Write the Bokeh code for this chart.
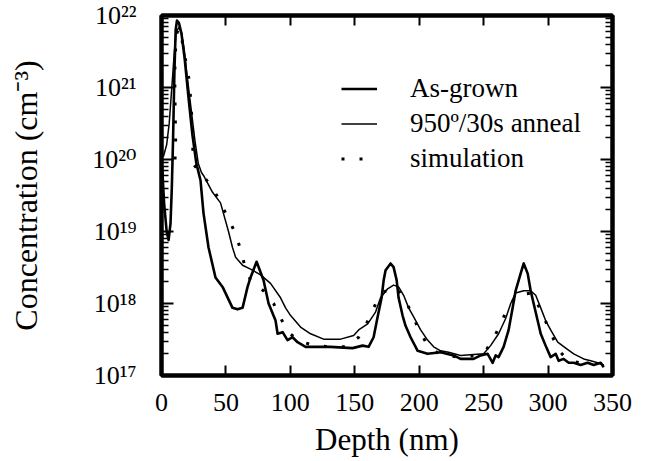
from bokeh.plotting import figure
from bokeh.models import (FixedTicker, LinearAxis, LogAxis, Legend, LegendItem, Range1d)
from bokeh.embed import file_html
from bokeh.resources import INLINE

# ---------------- data ----------------
depth_grown = [0.5, 2, 4, 5.5, 7, 8, 9, 10, 11, 12, 13.5, 15.5, 18, 21, 24, 27, 30.3, 32.6,
               36.5, 41.9, 47.4, 55.1, 59, 62.9, 66.8, 69.1, 73.8, 79.2, 83.1, 88.5, 90.1,
               94, 97.8, 101.7, 105.6, 111.8, 131, 148.3, 156.1, 160.7, 164.6, 167.7, 170.8,
               172.4, 173.9, 177.8, 180.1, 182.5, 184, 187.1, 189.4, 193.3, 198.8, 202.6,
               206.5, 216.6, 226.7, 232.1, 242.2, 247.7, 253.1, 257, 259.3, 261.6, 265.5,
               269.4, 272.5, 274.8, 278.7, 281.1, 284.2, 286.5, 288.8, 291.9, 294.3, 298.1,
               302, 305.9, 308.2, 312.1, 316, 319.9, 325.3, 330.7, 335.4, 340.8, 343.2]
conc_grown = [7.9e19, 2.5e19, 1.0e19, 7.6e18, 1.3e19, 4.0e19, 2.0e20, 1.6e21, 6.3e21, 8.5e21,
              7.9e21, 5.6e21, 2.5e21, 7.1e20, 2.2e20, 8.9e19, 5.1e19, 1.8e19,
              6.0e18, 2.3e18, 1.7e18, 8.7e17, 8.3e17, 8.7e17, 1.7e18, 2.3e18, 3.8e18, 2.1e18,
              1.0e18, 5.8e17, 3.8e17, 4.0e17, 3.1e17, 3.4e17, 2.9e17, 2.5e17, 2.5e17, 2.4e17,
              2.6e17, 2.5e17, 3.4e17, 6.5e17, 1.2e18, 2.1e18, 2.9e18, 3.6e18, 3.2e18, 2.1e18,
              1.2e18, 6.8e17, 4.9e17, 3.4e17, 2.2e17, 2.1e17, 2.0e17, 2.1e17, 1.9e17, 1.7e17,
              1.7e17, 1.9e17, 2.0e17, 1.5e17, 1.9e17, 1.8e17, 2.5e17, 4.3e17, 8.7e17, 1.5e18,
              2.6e18, 3.6e18, 2.6e18, 1.5e18, 1.0e18, 5.8e17, 3.8e17, 2.6e17, 1.8e17, 2.0e17,
              1.6e17, 1.7e17, 1.5e17, 1.5e17, 1.4e17, 1.5e17, 1.4e17, 1.5e17, 1.3e17]

depth_anneal = [1.5, 4, 6, 8, 10, 11.5, 13.5, 15.5, 17.5, 20, 23, 26, 28.5, 31, 32.6, 39.6,
                45.8, 52.0, 55.1, 57.5, 62.9, 69.1, 76.9, 84.6, 92.4, 96.3, 100.2, 107.9,
                115.7, 125.8, 139, 149.1, 153, 160, 166.1, 170, 175.5, 180.1, 184, 187.9,
                191.8, 195.7, 201.1, 206.5, 211.2, 216.6, 222.8, 232.1, 250, 255.4, 261.6,
                267.1, 271, 274.8, 281.1, 286.5, 290.4, 294.3, 298.1, 302, 307.5, 313.7,
                319.9, 327.6, 333.1, 338.5, 343.2]
conc_anneal = [1.1e20, 1.6e20, 3.2e20, 1.0e21, 3.2e21, 6.0e21, 6.8e21, 5.8e21, 3.5e21, 1.4e21,
               5.0e20, 1.8e20, 8.9e19, 6.6e19, 6.0e19, 3.5e19, 2.5e19, 1.0e19, 6.0e18, 4.4e18,
               3.4e18, 3.0e18, 2.5e18, 1.9e18, 1.2e18, 8.7e17, 6.8e17, 4.7e17, 3.8e17, 3.2e17,
               3.2e17, 3.6e17, 4.3e17, 5.2e17, 7.6e17, 1.2e18, 1.6e18, 1.8e18, 1.7e18, 1.3e18,
               8.7e17, 6.5e17, 4.3e17, 3.1e17, 2.5e17, 2.2e17, 2.1e17, 1.9e17, 2.0e17, 2.6e17,
               3.8e17, 6.2e17, 1.0e18, 1.4e18, 1.5e18, 1.5e18, 1.3e18, 8.7e17, 5.8e17, 4.3e17,
               2.9e17, 2.4e17, 2.0e17, 1.7e17, 1.6e17, 1.5e17, 1.4e17]

depth_sim = [10.5, 11.0, 10.6, 10.3, 10.5, 11.5, 13, 15, 18, 21.7, 23.3, 24.1, 24.3, 24.5,
             39.6, 45.8, 52.0, 57.5, 61.4, 64.5, 69.1, 79.2, 87, 92.4, 98.3, 107, 118.8, 131,
             143, 153, 159, 164.6, 170.8, 181.7, 189.4, 194.9, 199.5, 205.7, 215, 230, 245,
             252.3, 258.5, 264, 268.6, 276.4, 287.3, 292, 297.4, 302.8, 307.5, 316, 325]
conc_sim = [1.0e20, 2.0e20, 5.0e20, 1.3e21, 2.5e21, 5.2e21, 6.6e21, 5.6e21, 2.8e21, 1.2e21,
            4.4e20, 2.5e20, 1.4e20, 8.7e19, 4.1e19, 2.5e19, 1.5e19, 9.3e18, 5.6e18, 3.4e18,
            2.1e18, 1.5e18, 1.0e18, 6.3e17, 4.0e17, 3.0e17, 2.6e17, 2.5e17, 2.5e17, 3.4e17,
            5.2e17, 8.7e17, 1.4e18, 1.7e18, 1.1e18, 6.8e17, 4.4e17, 2.8e17, 2.0e17, 1.8e17,
            1.9e17, 2.3e17, 3.5e17, 5.6e17, 8.7e17, 1.3e18, 1.4e18, 9.8e17, 6.0e17, 3.7e17,
            2.3e17, 1.6e17, 1.5e17]

x_ticks = [0, 50, 100, 150, 200, 250, 300, 350]
y_exponents = [17, 18, 19, 20, 21, 22]
series_labels = ["As-grown", "950\u00ba/30s anneal", "simulation"]

FONT = "Liberation Serif"
FONT_SUP = "'Liberation Serif', 'DejaVu Serif', serif"
SUP = str.maketrans("0123456789-", "\u2070\u00b9\u00b2\u00b3\u2074\u2075\u2076\u2077\u2078\u2079\u207b")

y_major = [10.0 ** e for e in y_exponents]
y_minor = [k * 10.0 ** e for e in y_exponents[:-1] for k in range(2, 10)]
y_labels = {10.0 ** e: "10" + str(e).translate(SUP) for e in y_exponents}

p = figure(width=647, height=461, y_axis_type="log",
           x_range=Range1d(0, 350), y_range=Range1d(1e17, 1e22),
           output_backend="svg", toolbar_location=None,
           min_border_left=161, min_border_right=35, min_border_top=15, min_border_bottom=86)
p.grid.visible = False
p.outline_line_color = "black"
p.outline_line_width = 4
p.background_fill_color = "white"
p.border_fill_color = "white"

# bottom axis
xa = p.xaxis[0]
xa.ticker = FixedTicker(ticks=x_ticks)
xa.axis_label = "Depth (nm)"
xa.axis_label_text_font = FONT
xa.axis_label_text_font_style = "normal"
xa.axis_label_text_font_size = "31px"
xa.axis_label_text_color = "black"
xa.axis_label_standoff = 8
xa.major_label_text_font = FONT
xa.major_label_text_font_size = "26px"
xa.major_label_text_color = "black"
xa.major_label_standoff = 18
xa.major_tick_in = 10
xa.major_tick_out = 0
xa.major_tick_line_width = 2
xa.minor_tick_line_color = None
xa.axis_line_width = 4

# left axis
ya = p.yaxis[0]
ya.ticker = FixedTicker(ticks=y_major, minor_ticks=y_minor)
ya.major_label_overrides = y_labels
ya.major_label_text_font = FONT_SUP
ya.major_label_text_font_size = "26px"
ya.major_label_text_color = "black"
ya.major_label_standoff = 25
ya.axis_label = "Concentration (cm\u207b\u00b3)"
ya.axis_label_text_font = FONT
ya.axis_label_text_font_style = "normal"
ya.axis_label_text_font_size = "32px"
ya.axis_label_text_color = "black"
ya.axis_label_standoff = 45
ya.major_tick_in = 12
ya.major_tick_out = 0
ya.minor_tick_in = 7
ya.minor_tick_out = 0
ya.major_tick_line_width = 2
ya.minor_tick_line_width = 1.5
ya.axis_line_width = 4

# mirrored axes (ticks only)
top = LinearAxis(ticker=FixedTicker(ticks=x_ticks), major_label_text_font_size="1px",
                 major_label_text_color=None, major_label_standoff=0,
                 major_tick_in=10, major_tick_out=0,
                 major_tick_line_width=2, minor_tick_line_color=None, axis_line_width=4)
p.add_layout(top, "above")
right = LogAxis(ticker=FixedTicker(ticks=y_major, minor_ticks=y_minor),
                major_label_text_font_size="1px", major_label_text_color=None,
                major_label_standoff=0,
                major_tick_in=12, major_tick_out=0, minor_tick_in=7, minor_tick_out=0,
                major_tick_line_width=2, minor_tick_line_width=1.5, axis_line_width=4)
p.add_layout(right, "right")

# series
r1 = p.line(depth_grown, conc_grown, line_color="black", line_width=2.6, line_join="round")
r2 = p.line(depth_anneal, conc_anneal, line_color="black", line_width=1.5, line_join="round")
r3 = p.line(depth_sim, conc_sim, line_color="black", line_width=3, line_dash="3 15")

legend = Legend(items=[LegendItem(label=series_labels[0], renderers=[r1]),
                       LegendItem(label=series_labels[1], renderers=[r2]),
                       LegendItem(label=series_labels[2], renderers=[r3])],
                location=(180, 201), glyph_width=36, glyph_height=27, label_height=27,
                label_standoff=33, spacing=4, padding=0, margin=0,
                border_line_color=None, background_fill_alpha=0,
                label_text_font=FONT, label_text_font_size="27px",
                label_text_color="black")
p.add_layout(legend)

open("out.html", "w").write(file_html(p, INLINE))
